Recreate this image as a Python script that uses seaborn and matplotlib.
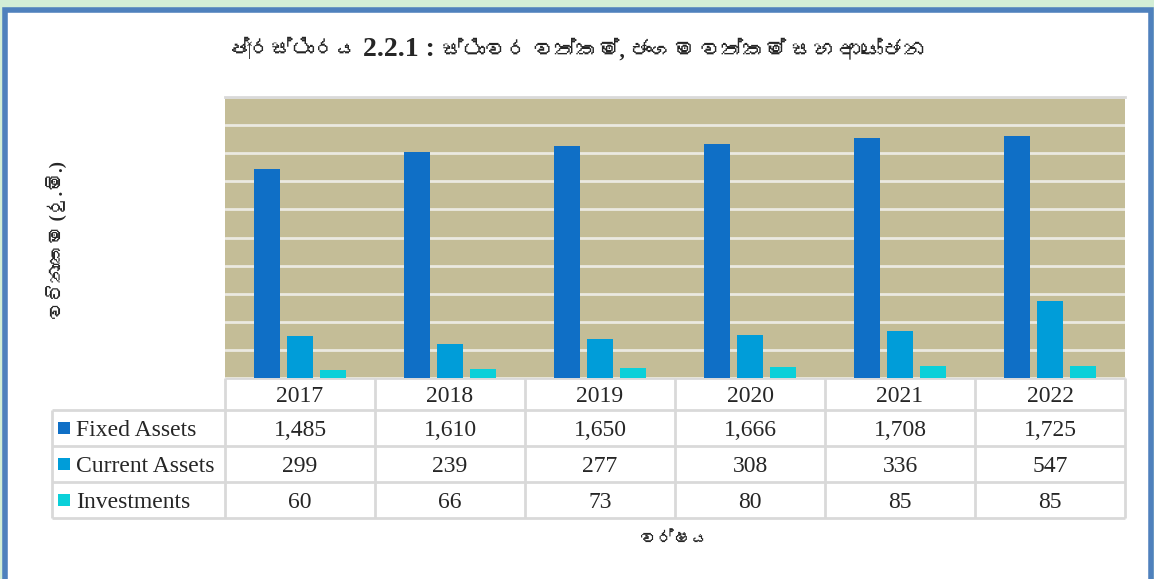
import matplotlib
matplotlib.use("Agg")
import matplotlib.pyplot as plt
import matplotlib.patches as mpatches
from matplotlib import font_manager, ft2font
import numpy as np
import pandas as pd
import seaborn as sns

years = ["2017", "2018", "2019", "2020", "2021", "2022"]
series = ["Fixed Assets", "Current Assets", "Investments"]
fixed_assets = [1485, 1610, 1650, 1666, 1708, 1725]
current_assets = [299, 239, 277, 308, 336, 547]
investments = [60, 66, 73, 80, 85, 85]

title_parts = ["ප්‍රස්ථාරය ", "2.2.1 : ", "ස්ථාවර වත්කම්, ජංගම වත්කම් සහ ආයෝජන"]
ylabel = "වටිනාකම (රු.මි.)"
xlabel = "වර්ෂය"

COLORS = ["#0f6fc6", "#009dd9", "#0bd0d9"]
GRID = "#d9d9d9"


def find_font(ch):
    seen = set()
    for f in font_manager.fontManager.ttflist:
        if f.fname in seen:
            continue
        seen.add(f.fname)
        try:
            if ord(ch) in ft2font.FT2Font(f.fname).get_charmap():
                return f.name
        except Exception:
            pass
    return None


sinhala = find_font("ව")

sns.set_theme(style="white")
plt.rcParams["font.family"] = ["Liberation Serif", "DejaVu Serif"]
# serif first so spaces / joiners come from it, Sinhala glyphs fall through
sin_family = ["Liberation Serif", sinhala] if sinhala else ["DejaVu Sans"]

df = pd.DataFrame({
    "year": years * 3,
    "series": [s for s in series for _ in years],
    "value": fixed_assets + current_assets + investments,
})

W, H = 1154, 579
fig = plt.figure(figsize=(W / 100, H / 100), dpi=100)
fig.patch.set_facecolor("#d3eed6")

# pixel-coordinate overlay for the frame and the data table
tax = fig.add_axes([0, 0, 1, 1])
tax.set_xlim(0, W)
tax.set_ylim(H, 0)
tax.axis("off")
tax.add_patch(mpatches.Rectangle((5, 10), 1146, 600, facecolor="white",
                                 edgecolor="#4f81bd", linewidth=4))

ax = fig.add_axes([225 / W, 1 - 378 / H, 900 / W, 281 / H])
ax.set_facecolor("#c4bd97")
sns.barplot(data=df, x="year", y="value", hue="series", palette=COLORS,
            width=0.66, gap=0.21, saturation=1, linewidth=0, ax=ax, legend=False)
ax.set_ylim(0, 2000)
ax.set_yticks(np.arange(0, 2001, 200))
ax.yaxis.grid(True, color="#ebe9e1", linewidth=2)
ax.set_axisbelow(True)
ax.tick_params(left=False, bottom=False, labelleft=False, labelbottom=False)
ax.set_xlabel("")
ax.set_ylabel("")
for side in ["left", "right", "bottom"]:
    ax.spines[side].set_visible(False)
ax.spines["top"].set_color(GRID)
ax.spines["top"].set_linewidth(2)

# data table
x0, xl, cw = 225, 52, 150
rows_y = [378, 410, 446, 482, 518]
x_right = x0 + cw * len(years)
tax.hlines(rows_y[0], x0, x_right, color=GRID, linewidth=2)
tax.hlines(rows_y[1:], xl, x_right, color=GRID, linewidth=2)
tax.vlines(xl, rows_y[1], rows_y[-1], color=GRID, linewidth=2)
tax.vlines([x0 + cw * k for k in range(len(years) + 1)], rows_y[0], rows_y[-1],
           color=GRID, linewidth=2)
for k, yr in enumerate(years):
    tax.text(x0 + cw * (k + 0.5), (rows_y[0] + rows_y[1]) / 2 + 2, yr,
             ha="center", va="center", fontsize=17)
for i, (name, vals) in enumerate(zip(series, (fixed_assets, current_assets, investments))):
    yc = (rows_y[i + 1] + rows_y[i + 2]) / 2
    tax.add_patch(mpatches.Rectangle((58, yc - 6), 12, 12, facecolor=COLORS[i],
                                     edgecolor="none"))
    tax.text(76, yc + 2, name, ha="left", va="center", fontsize=17)
    for k, v in enumerate(vals):
        tax.text(x0 + cw * (k + 0.5), yc + 2, f"{v:,}", ha="center", va="center",
                 fontsize=17)

# title: Sinhala pieces around a bold serif number
styles = [dict(family=sin_family, fontsize=15.5, fontweight="bold"),
          dict(family=["Liberation Serif"], fontsize=20, fontweight="bold"),
          dict(family=sin_family, fontsize=15.5, fontweight="bold")]
renderer = fig.canvas.get_renderer()
pieces = [tax.text(0, 50, t, ha="left", va="center", **st)
          for t, st in zip(title_parts, styles)]
widths = [p.get_window_extent(renderer).width for p in pieces]
x = (W - sum(widths)) / 2
for p, w in zip(pieces, widths):
    p.set_x(x)
    x += w

fig.text(57 / W, 1 - 240 / H, ylabel, rotation=90, ha="center", va="center",
         fontsize=13.5, fontweight="bold", family=sin_family)
fig.text(675 / W, 1 - 540 / H, xlabel, ha="center", va="center",
         fontsize=12.5, fontweight="bold", family=sin_family)

fig.savefig("out.png", dpi=100)
